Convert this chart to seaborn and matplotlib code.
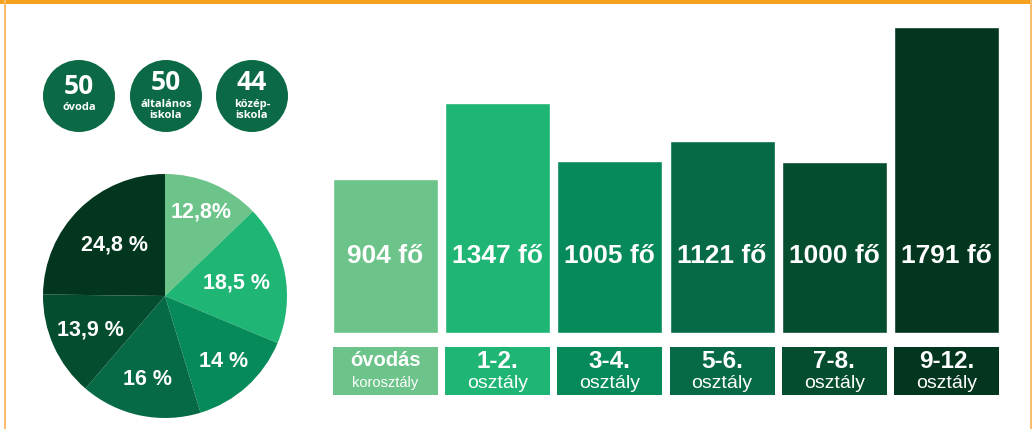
import matplotlib
matplotlib.use("Agg")
import matplotlib.pyplot as plt
from matplotlib.patches import Circle, Rectangle
import numpy as np
import pandas as pd
import seaborn as sns

# ---------------- data ----------------
school_counts = [50, 50, 44]
school_labels = ["óvoda", "általános\niskola", "közép-\niskola"]

pie_values = [12.8, 18.5, 14, 16, 13.9, 24.8]
pie_labels = ["12,8%", "18,5 %", "14 %", "16 %", "13,9 %", "24,8 %"]

bar_values = [904, 1347, 1005, 1121, 1000, 1791]
bar_cat_top = ["óvodás", "1-2.", "3-4.", "5-6.", "7-8.", "9-12."]
bar_cat_bottom = ["korosztály", "osztály", "osztály", "osztály", "osztály", "osztály"]

# ---------------- style ----------------
greens = ["#6cc48a", "#1fb574", "#078a59", "#056a45", "#044d2e", "#03361f"]
circle_color = "#0b6a45"
orange = "#f6a21d"
orange_light = "#f8bd6c"

sns.set_theme(style="white")
plt.rcParams["font.family"] = ["Liberation Sans", "DejaVu Sans"]

W, H = 1032, 429
fig = plt.figure(figsize=(W / 100, H / 100), dpi=100)
fig.patch.set_facecolor("white")

# decoration layer in pixel coordinates
bg = fig.add_axes([0, 0, 1, 1])
bg.set_xlim(0, W)
bg.set_ylim(H, 0)
bg.axis("off")
bg.add_patch(Rectangle((0, 0), W, 4, color=orange, lw=0))
bg.add_patch(Rectangle((4, 0), 2.2, H, color=orange_light, lw=0))
bg.add_patch(Rectangle((1029.5, 0), 2.5, H, color=orange_light, lw=0))

# three circles with counts
circ_x = [79, 166, 252]
circ_y = 96
circ_r = 36
for i, (cnt, lab) in enumerate(zip(school_counts, school_labels)):
    cx = circ_x[i]
    bg.add_patch(Circle((cx, circ_y), circ_r, color=circle_color, lw=0))
    two_lines = "\n" in lab
    num_y = circ_y - (13 if two_lines else 9)
    bg.text(cx, num_y, str(cnt), color="white", ha="center", va="center",
            fontsize=19, fontweight="bold", family=["Open Sans", "DejaVu Sans"])
    if two_lines:
        bg.text(cx, circ_y + 14, lab, color="white", ha="center", va="center",
                fontsize=8, fontweight="bold", linespacing=1.1,
                family=["Open Sans", "DejaVu Sans"])
    else:
        bg.text(cx, circ_y + 12, lab, color="white", ha="center", va="center",
                fontsize=8, fontweight="bold", family=["Open Sans", "DejaVu Sans"])

# ---------------- pie ----------------
pcx, pcy, pr = 165, 296, 122
half = 126
axp = fig.add_axes([(pcx - half) / W, (H - pcy - half) / H, 2 * half / W, 2 * half / H])
wedges, _ = axp.pie(pie_values, colors=greens, startangle=90, counterclock=False,
                    radius=1, wedgeprops=dict(linewidth=0))
lim = half / pr
axp.set_xlim(-lim, lim)
axp.set_ylim(-lim, lim)
axp.set_aspect("equal")
axp.axis("off")
label_dist = [0.75, 0.60, 0.72, 0.70, 0.67, 0.59]
for w, lab, d in zip(wedges, pie_labels, label_dist):
    ang = np.deg2rad((w.theta1 + w.theta2) / 2)
    axp.text(d * np.cos(ang), d * np.sin(ang), lab, color="white", ha="center",
             va="center", fontsize=15.5, fontweight="bold")

# ---------------- bars ----------------
ppu = 0.1709          # pixels per person
zero_px = 333         # baseline, px from top
ax_bottom_px = 20
ax_top_px = 425
bar_left_px = 329.4
bar_span_px = 673.2
axb = fig.add_axes([bar_left_px / W, ax_bottom_px / H, bar_span_px / W,
                    (ax_top_px - ax_bottom_px) / H])
df = pd.DataFrame({"cat": bar_cat_top, "val": bar_values})
sns.barplot(data=df, x="cat", y="val", hue="cat", palette=greens, saturation=1,
            width=0.936, legend=False, ax=axb)
base = H - zero_px
axb.set_xlim(-0.5, 5.5)
axb.set_ylim(-(base - ax_bottom_px) / ppu, (ax_top_px - base) / ppu)
axb.axis("off")

xs = np.arange(len(bar_values))
# value labels
for x, v in zip(xs, bar_values):
    axb.text(x, (zero_px - 256) / ppu, f"{v} fő", color="white", ha="center",
             va="center", fontsize=19, fontweight="bold")

# category boxes below the bars
box_top = -(347 - zero_px) / ppu
box_h = -(395 - 347) / ppu
axb.bar(xs, box_h, bottom=box_top, width=0.936, color=greens, linewidth=0)
for x, t1, t2 in zip(xs, bar_cat_top, bar_cat_bottom):
    first = x == 0
    axb.text(x, -(361 - zero_px) / ppu, t1, color="white", ha="center", va="center",
             fontsize=14.5 if first else 17.5, fontweight="bold")
    axb.text(x, -(383 - zero_px) / ppu, t2, color="white", ha="center", va="center",
             fontsize=10.5 if first else 14)

fig.savefig("out.png", dpi=100, facecolor="white")
